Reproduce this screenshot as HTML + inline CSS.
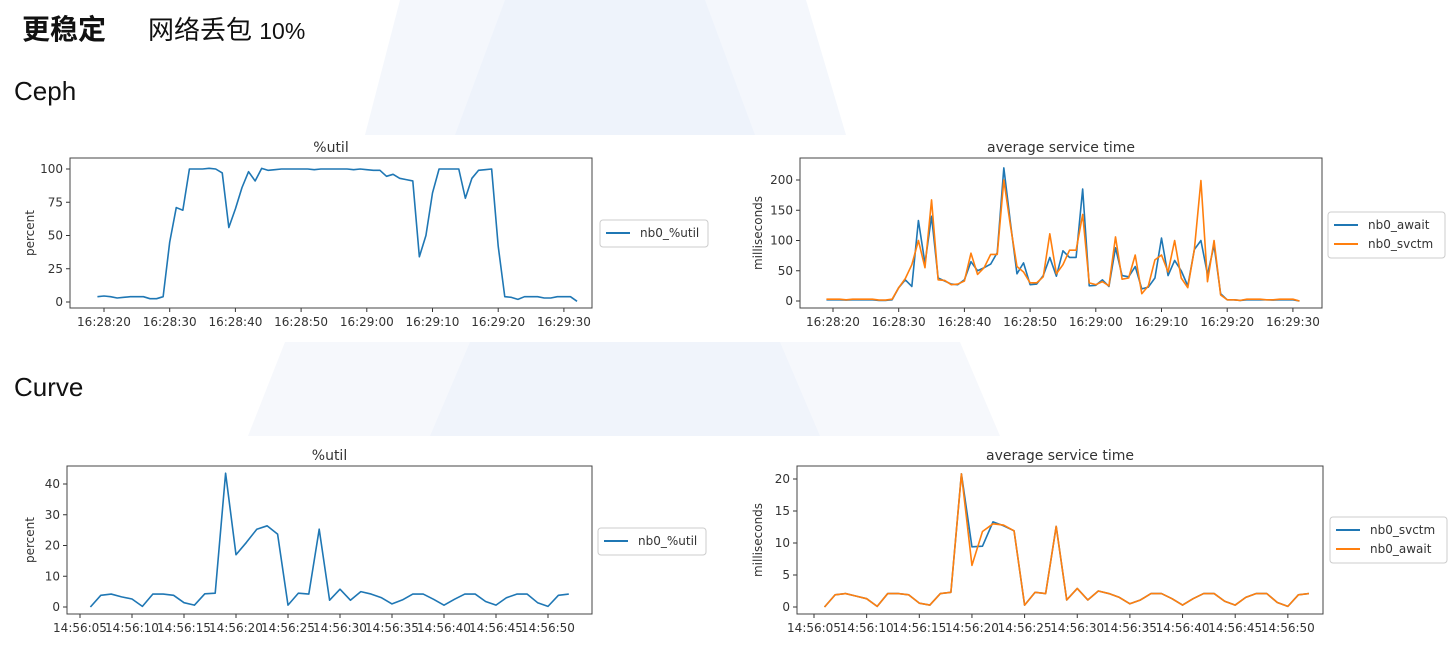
<!DOCTYPE html>
<html><head><meta charset="utf-8">
<style>
html,body{margin:0;padding:0;background:#fff;}
body{width:1449px;height:655px;overflow:hidden;position:relative;font-family:"Liberation Sans","Noto Sans CJK SC",sans-serif;}
.t{position:absolute;color:#111;white-space:nowrap;}
svg{position:absolute;left:0;top:0;}
svg text{font-family:"DejaVu Sans","Liberation Sans",sans-serif;fill:#333;}
</style></head>
<body>
<svg id="bg" width="1449" height="655">
<polygon points="400,0 806,0 846,135 365,135" fill="#f4f7fc"/>
<polygon points="505,0 705,0 755,135 455,135" fill="#eef3fb"/>
<polygon points="285,342 960,342 1000,436 248,436" fill="#f6f8fc"/>
<polygon points="470,342 780,342 820,436 430,436" fill="#f0f4fb"/>
</svg>
<div class="t" style="left:22px;top:8px;font-size:28px;font-weight:bold;font-family:'Noto Sans CJK SC',sans-serif;">更稳定</div>
<div class="t" style="left:148px;top:10px;font-size:26px;font-family:'Liberation Sans','Noto Sans CJK SC',sans-serif;">网络丢包 <span style="font-size:23px">10%</span></div>
<div class="t" style="left:14px;top:76px;font-size:26px;">Ceph</div>
<div class="t" style="left:14px;top:372px;font-size:26px;">Curve</div>
<svg id="charts" width="1449" height="655"></svg>
<script>
const cephTicks=["16:28:20","16:28:30","16:28:40","16:28:50","16:29:00","16:29:10","16:29:20","16:29:30"];
const curveTicks=["14:56:05","14:56:10","14:56:15","14:56:20","14:56:25","14:56:30","14:56:35","14:56:40","14:56:45","14:56:50"];
const cephUtil=[4,4.5,4,3,3.5,4,4,4,2.5,2.5,4,45,71,69,100,100,100,100.5,100,97,56,70,86,98,91,100.5,99,99.5,100,100,100,100,100,99.5,100,100,100,100,100,99.5,100,99.5,99,99,94.5,96,93,92,91,34,50,82,100,100,100,100,78,93,99,99.5,100,42,4,3.5,2,4,4,4,3,3,4,4,4,0.5];
const cephAwait=[2,2,2,1.5,2,2,2,2,1,1,2,22,35,24,133,62,140,38,33,28,27,35,65,50,55,61,80,220,130,45,63,27,28,42,72,41,83,72,72,185,25,26,35,24,88,42,40,57,20,23,38,104,42,67,50,25,85,100,44,92,12,2,2,1,2,2,2,2,1.5,2,2,2,0];
const cephSvctm=[3,3,3,2,3,3,3,3,1.5,1.5,3,22,37,60,100,55,167,35,34,27,28,33,79,44,55,77,77,200,125,57,48,30,30,40,111,45,60,84,84,143,30,27,32,25,106,36,38,76,12,25,68,76,48,100,38,22,85,199,32,100,10,2,2,1,3,3,3,2,2,3,3,3,0];
const curveUtil=[0,3.8,4.2,3.3,2.6,0.2,4.2,4.2,3.8,1.4,0.6,4.3,4.5,43.5,17,21,25.3,26.4,23.7,0.6,4.5,4.2,25.3,2.2,5.8,2.2,5,4.2,3,1,2.3,4.2,4.2,2.5,0.6,2.5,4.2,4.2,1.8,0.6,3,4.2,4.2,1.4,0.2,3.8,4.2];
const curveSvctm=[0,1.9,2.1,1.7,1.3,0.1,2.1,2.1,1.9,0.6,0.3,2.1,2.3,20.8,9.4,9.5,13.3,12.7,11.9,0.3,2.3,2.1,12.6,1.1,2.9,1.1,2.5,2.1,1.5,0.5,1.1,2.1,2.1,1.3,0.3,1.3,2.1,2.1,0.9,0.3,1.5,2.1,2.1,0.7,0.1,1.9,2.1];
const curveAwait=[0,1.9,2.1,1.7,1.3,0.1,2.1,2.1,1.9,0.6,0.3,2.1,2.3,20.8,6.5,11.8,13.0,12.8,11.9,0.3,2.3,2.1,12.6,1.1,2.9,1.1,2.5,2.1,1.5,0.5,1.1,2.1,2.1,1.3,0.3,1.3,2.1,2.1,0.9,0.3,1.5,2.1,2.1,0.7,0.1,1.9,2.1];
const cephUtilYTicks=[0,25,50,75,100];
const cephTimeYTicks=[0,50,100,150,200];
const curveUtilYTicks=[0,10,20,30,40];
const curveTimeYTicks=[0,5,10,15,20];

const NS="http://www.w3.org/2000/svg";
const root=document.getElementById('charts');
function mk(tag,attrs,parent){const e=document.createElementNS(NS,tag);for(const k in attrs)e.setAttribute(k,attrs[k]);(parent||root).appendChild(e);return e;}
function chart(c){
  const g=mk('g',{});
  
  
  const xs=t=>c.x0+t*c.xs, ys=v=>c.y0-v*c.ys;
  const t=mk('text',{x:(c.bx+c.bx2)/2,y:c.by-6,'text-anchor':'middle','font-size':14},g);
  t.textContent=c.title;
  
  
  c.yticks.forEach(v=>{
    mk('line',{x1:c.bx-4,x2:c.bx,y1:ys(v),y2:ys(v),stroke:'#333'},g);
    const l=mk('text',{x:c.bx-7,y:ys(v)+4,'text-anchor':'end','font-size':12},g);
    l.textContent=v;
    
    
  });
  c.xticks.forEach((s,i)=>{
    const x=xs(i*10*c.tstep/10);
    mk('line',{x1:x,x2:x,y1:c.by2,y2:c.by2+4,stroke:'#333'},g);
    const l=mk('text',{x:x,y:c.by2+18,'text-anchor':'middle','font-size':12},g);
    l.textContent=s;
    
    
  });
  const yl=mk('text',{x:0,y:0,'text-anchor':'middle','font-size':12,transform:`translate(${c.ylx},${(c.by+c.by2)/2}) rotate(-90)`},g);
  yl.textContent=c.ylabel;
  
  
  c.series.forEach(s=>{
    const p=mk('polyline',{points:s.data.map((v,i)=>xs(s.off+i)+','+ys(v)).join(' '),fill:'none',stroke:s.color,'stroke-width':1.6,'stroke-linejoin':'round'},g);
    
    
  });
  const fr=mk('rect',{x:c.bx,y:c.by,width:c.bx2-c.bx,height:c.by2-c.by,fill:'none',stroke:'#444','stroke-width':1},g);
  
  
  const L=c.legend;
  const lr=mk('rect',{x:L.x,y:L.y,width:L.w,height:8+c.series.length*19,fill:'#fff',stroke:'#ccc',rx:3},g);
  
  
  c.series.forEach((s,i)=>{
    const yy=L.y+13+i*19;
    mk('line',{x1:L.x+6,x2:L.x+30,y1:yy,y2:yy,stroke:s.color,'stroke-width':2},g);
    const tx=mk('text',{x:L.x+40,y:yy+4,'font-size':12},g);
    tx.textContent=s.label;
    
    
  });
}
const B='#1f77b4',O='#ff7f0e';
chart({name:'ceph-util-chart',title:'%util',ylabel:'percent',bx:70,bx2:592,by:158,by2:308,x0:104,xs:6.57,y0:302,ys:1.33,tstep:10,
  yticks:cephUtilYTicks,xticks:cephTicks,ylx:34,legend:{x:600,y:220,w:108},
  series:[{data:cephUtil,color:B,label:'nb0_%util',off:-1}]});
chart({name:'ceph-service-time-chart',title:'average service time',ylabel:'milliseconds',bx:800,bx2:1322,by:158,by2:308,x0:833,xs:6.57,y0:301,ys:0.605,tstep:10,
  yticks:cephTimeYTicks,xticks:cephTicks,ylx:762,legend:{x:1328,y:212,w:117},
  series:[{data:cephAwait,color:B,label:'nb0_await',off:-1},{data:cephSvctm,color:O,label:'nb0_svctm',off:-1}]});
chart({name:'curve-util-chart',title:'%util',ylabel:'percent',bx:67,bx2:592,by:466,by2:614,x0:80,xs:10.4,y0:607,ys:3.075,tstep:5,
  yticks:curveUtilYTicks,xticks:curveTicks,ylx:34,legend:{x:598,y:528,w:108},
  series:[{data:curveUtil,color:B,label:'nb0_%util',off:1}]});
chart({name:'curve-service-time-chart',title:'average service time',ylabel:'milliseconds',bx:797,bx2:1323,by:466,by2:614,x0:814,xs:10.53,y0:607,ys:6.4,tstep:5,
  yticks:curveTimeYTicks,xticks:curveTicks,ylx:762,legend:{x:1330,y:517,w:117},
  series:[{data:curveSvctm,color:B,label:'nb0_svctm',off:1},{data:curveAwait,color:O,label:'nb0_await',off:1}]});
</script>
</body></html>
